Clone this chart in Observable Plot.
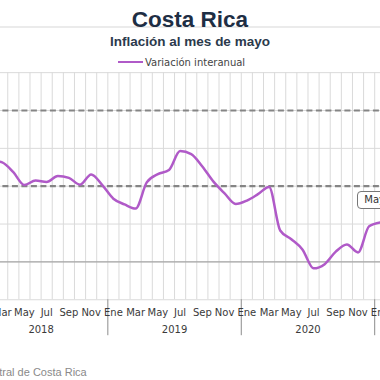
<!DOCTYPE html>
<html>
<head>
<meta charset="utf-8">
<script src="https://cdn.jsdelivr.net/npm/d3@7"></script>
<script src="https://cdn.jsdelivr.net/npm/@observablehq/plot@0.6"></script>
<style>
  body { margin: 0; background: #fff; }
  #wrap { position: relative; width: 380px; height: 380px; overflow: hidden; background: #fff; }
  #chart { position: absolute; left: -60px; top: 0; width: 520px; height: 380px; }
  #chart svg { max-width: none !important; width: 520px; height: 380px; display: block; }
  .abs { position: absolute; white-space: nowrap; line-height: 1; }
</style>
</head>
<body>
<div id="wrap">
  <div class="abs" style="left:0;top:26px;width:380px;height:2px;background:#ebebeb"></div>
  <div id="chart"></div>
  <div class="abs" style="left:0;width:380px;text-align:center;top:7px;font:bold 22.5px 'Liberation Sans',Arial,sans-serif;color:#1e2e44">Costa Rica</div>
  <div class="abs" style="left:0;width:380px;text-align:center;top:34.3px;font:bold 13.5px 'Liberation Sans',Arial,sans-serif;color:#2b3a4c">Inflación al mes de mayo</div>
  <div class="abs" style="left:118.3px;top:60.7px;width:24.4px;height:2.2px;background:#b05ac8"></div>
  <div class="abs" style="left:145px;top:56.5px;font:10px 'DejaVu Sans',sans-serif;color:#444">Variación interanual</div>
  <div class="abs" style="right:293.3px;top:366.4px;font:11px 'Liberation Sans',Arial,sans-serif;color:#8a8a8a">Fuente: Banco Central de Costa Rica</div>
  <div class="abs" style="left:357.3px;top:190.7px;height:18.6px;box-sizing:border-box;border:1px solid #777;border-radius:4px;background:#fff;padding:0 6px;font:10px 'DejaVu Sans',sans-serif;color:#333;line-height:16.6px">Mayo 2021</div>
</div>
<script>
const months = ["Ene","Feb","Mar","Abr","May","Jun","Jul","Ago","Sep","Oct","Nov","Dic"];
const years = [2018, 2019, 2020, 2021];
// Variación interanual (%), Ene 2018 ... Ene 2021
const inflation = [
  2.55, 2.68, 2.63, 2.37, 2.03, 2.15, 2.11, 2.27, 2.22, 2.04, 2.31, 2.03,
  1.67, 1.52, 1.41, 2.10, 2.32, 2.43, 2.93, 2.85, 2.52, 2.12, 1.81, 1.53,
  1.62, 1.79, 1.98, 0.83, 0.60, 0.33, -0.17, -0.06, 0.27, 0.46, 0.25, 0.94,
  1.04
];
const targetBand = [2, 4];
const yTicks = [-1, 0, 1, 2, 3, 4, 5];

const nMonths = 41; // Ene 2018 .. May 2021
const data = inflation.map((v, i) => ({x: i + 0.5, v}));
const monthBounds = d3.range(nMonths + 1);
const monthLabelTicks = d3.range(0, nMonths, 2).map(i => i + 0.5);
const yearTicks = [6, 18, 30, 38.5];
const yearBounds = [12, 24, 36];

const chart = Plot.plot({
  width: 520,
  height: 380,
  marginLeft: 33.9,
  marginRight: 30.2,
  marginTop: 72.15,
  marginBottom: 80.75,
  x: {domain: [0, nMonths]},
  y: {domain: [-1, 5], axis: null},
  style: {fontFamily: "'DejaVu Sans', sans-serif", fontSize: "10px", color: "#3a3a3a", background: "transparent"},
  marks: [
    Plot.gridX(monthBounds, {stroke: "#dadada", strokeOpacity: 1}),
    Plot.gridY(yTicks, {stroke: "#dadada", strokeOpacity: 1}),
    Plot.ruleY([0], {stroke: "#9a9a9a", strokeWidth: 1}),
    Plot.ruleY(targetBand, {stroke: "#858585", strokeWidth: 2.2, strokeDasharray: "6,3.5"}),
    Plot.ruleX(yearBounds, {y1: -1, y2: -1.95, stroke: "#8c8c8c"}),
    Plot.line(data, {x: "x", y: "v", stroke: "#b05ac8", strokeWidth: 2.5, curve: "monotone-x"}),
    Plot.axisX(monthLabelTicks, {tickSize: 0, tickPadding: 8.7, tickFormat: d => months[Math.floor(d) % 12], label: null, fill: "#3a3a3a"}),
    Plot.axisX(yearTicks, {tickSize: 0, tickPadding: 26.4, tickFormat: d => String(years[Math.floor(d / 12)]), label: null, fill: "#3a3a3a"})
  ]
});
document.getElementById("chart").append(chart);
</script>
</body>
</html>
